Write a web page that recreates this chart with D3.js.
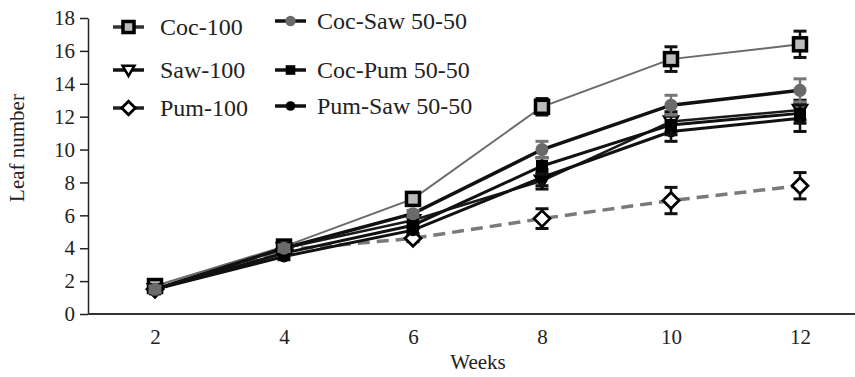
<!DOCTYPE html>
<html><head><meta charset="utf-8">
<script src="https://cdn.jsdelivr.net/npm/d3@7"></script>
<style>body{margin:0;background:#fff}svg{display:block}text{font-family:"Liberation Serif","DejaVu Serif",serif;fill:#222}</style>
</head><body><svg id="c" width="855" height="377"></svg>
<script>
const weeks = [2, 4, 6, 8, 10, 12];
const yTicks = [0, 2, 4, 6, 8, 10, 12, 14, 16, 18];
const seriesNames = ["Coc-100", "Saw-100", "Pum-100", "Coc-Saw 50-50", "Coc-Pum 50-50", "Pum-Saw 50-50"];
const coc100 = [1.7, 4.1, 7.0, 12.6, 15.5, 16.4];
const coc100Err = [0.2, 0.2, 0.2, 0.5, 0.75, 0.8];
const saw100 = [1.5, 4.0, 5.7, 8.1, 11.7, 12.4];
const saw100Err = [0.2, 0.2, 0.2, 0.5, 0.6, 0.6];
const pum100 = [1.5, 3.9, 4.6, 5.8, 6.9, 7.8];
const pum100Err = [0.2, 0.2, 0.2, 0.6, 0.8, 0.8];
const cocSaw = [1.5, 4.0, 6.1, 10.0, 12.7, 13.6];
const cocSawErr = [0.2, 0.2, 0.2, 0.5, 0.6, 0.7];
const cocPum = [1.5, 3.7, 5.4, 9.0, 11.5, 12.2];
const cocPumErr = [0.2, 0.2, 0.2, 0.5, 0.6, 0.6];
const pumSaw = [1.5, 3.5, 5.1, 8.3, 11.1, 11.9];
const pumSawErr = [0.2, 0.2, 0.2, 0.5, 0.6, 0.8];

const styles = [
  {v: coc100, e: coc100Err, line: "#6a6a6a", lw: 2, dash: null, marker: "sqOpen", errC: "#111"},
  {v: saw100, e: saw100Err, line: "#1a1a1a", lw: 2.5, dash: null, marker: "tri", errC: "#111"},
  {v: pum100, e: pum100Err, line: "#7a7a7a", lw: 3.5, dash: "12,7", marker: "diam", errC: "#111"},
  {v: cocSaw, e: cocSawErr, line: "#111", lw: 3.5, dash: null, marker: "circGray", errC: "#777"},
  {v: cocPum, e: cocPumErr, line: "#111", lw: 3, dash: null, marker: "sqFill", errC: "#111"},
  {v: pumSaw, e: pumSawErr, line: "#111", lw: 3, dash: null, marker: "circBlack", errC: "#111"}
];

const svg = d3.select("#c");
const x = d3.scalePoint().domain(weeks).range([155, 800]);
const y = d3.scaleLinear().domain([0, 18]).range([314, 18]);

const ya = svg.append("g").attr("transform", "translate(88,0)")
  .call(d3.axisLeft(y).tickValues(yTicks).tickSize(8).tickPadding(5).tickSizeOuter(0));
ya.select(".domain").attr("stroke", "#222").attr("stroke-width", 1.5);
ya.selectAll(".tick line").attr("stroke", "#222").attr("stroke-width", 1.5);
ya.selectAll("text").style("font-size", "21px").attr("fill", "#222");

const xa = svg.append("g").attr("transform", "translate(0,314)")
  .call(d3.axisBottom(x).tickValues(weeks).tickSize(0).tickPadding(15));
xa.select(".domain").remove();
xa.selectAll("text").style("font-size", "21px").attr("fill", "#222");
svg.append("line").attr("x1", 88).attr("x2", 855).attr("y1", 314).attr("y2", 314)
  .attr("stroke", "#333").attr("stroke-width", 2);

svg.append("text").attr("x", 478).attr("y", 369).attr("text-anchor", "middle")
  .style("font-size", "21px").text("Weeks");
svg.append("text").attr("transform", "translate(24,148) rotate(-90)").attr("text-anchor", "middle")
  .style("font-size", "21px").text("Leaf number");

function drawMarker(g, type, cx, cy, scale) {
  const s = scale || 1;
  if (type === "sqOpen") {
    g.append("rect").attr("x", cx - 6.5*s).attr("y", cy - 6.5*s).attr("width", 13*s).attr("height", 13*s)
      .attr("fill", "#bbb").attr("stroke", "#000").attr("stroke-width", 3.5);
  } else if (type === "tri") {
    const p = [[cx - 7*s, cy - 5*s], [cx + 7*s, cy - 5*s], [cx, cy + 7*s]];
    g.append("path").attr("d", d3.line()(p) + "Z").attr("fill", "#fff").attr("stroke", "#000").attr("stroke-width", 2.5);
  } else if (type === "diam") {
    const p = [[cx, cy - 8*s], [cx + 8*s, cy], [cx, cy + 8*s], [cx - 8*s, cy]];
    g.append("path").attr("d", d3.line()(p) + "Z").attr("fill", "#fff").attr("stroke", "#000").attr("stroke-width", 2.8);
  } else if (type === "circGray") {
    g.append("circle").attr("cx", cx).attr("cy", cy).attr("r", 6.5*s).attr("fill", "#6a6a6a");
  } else if (type === "sqFill") {
    g.append("rect").attr("x", cx - 6*s).attr("y", cy - 6*s).attr("width", 12*s).attr("height", 12*s).attr("fill", "#000");
  } else if (type === "circBlack") {
    g.append("circle").attr("cx", cx).attr("cy", cy).attr("r", 6*s).attr("fill", "#000");
  }
}

const plot = svg.append("g");
const lineGen = d3.line().x((d, i) => x(weeks[i])).y(d => y(d));
const order = [2, 0, 1, 5, 4, 3];
order.forEach(k => {
  const st = styles[k];
  plot.append("path").attr("d", lineGen(st.v)).attr("fill", "none")
    .attr("stroke", st.line).attr("stroke-width", st.lw)
    .attr("stroke-dasharray", st.dash);
});
order.forEach(k => {
  const st = styles[k];
  const g = plot.append("g");
  st.v.forEach((v, i) => {
    const cx = x(weeks[i]);
    const top = y(v + st.e[i]), bot = y(v - st.e[i]);
    g.append("line").attr("x1", cx).attr("x2", cx).attr("y1", top).attr("y2", bot).attr("stroke", st.errC).attr("stroke-width", 2.5);
    [top, bot].forEach(yy => g.append("line").attr("x1", cx - 6.5).attr("x2", cx + 6.5).attr("y1", yy).attr("y2", yy).attr("stroke", st.errC).attr("stroke-width", 3));
  });
  st.v.forEach((v, i) => drawMarker(g, st.marker, x(weeks[i]), y(v)));
});

const legPos = [
  {x: 113, y: 27}, {x: 113, y: 70}, {x: 113, y: 108},
  {x: 275, y: 21}, {x: 275, y: 70}, {x: 275, y: 106}
];
seriesNames.forEach((name, k) => {
  const st = styles[k], p = legPos[k];
  const g = svg.append("g");
  g.append("line").attr("x1", p.x).attr("x2", p.x + 31).attr("y1", p.y).attr("y2", p.y)
    .attr("stroke", k === 2 ? "#222" : (k === 0 ? "#333" : "#111")).attr("stroke-width", 3.5);
  drawMarker(g, st.marker, p.x + 15.5, p.y, k >= 3 ? 0.8 : 0.85);
  g.append("text").attr("x", k < 3 ? p.x + 47 : p.x + 42).attr("y", p.y + 8)
    .style("font-size", "24px").text(name);
});
</script></body></html>
